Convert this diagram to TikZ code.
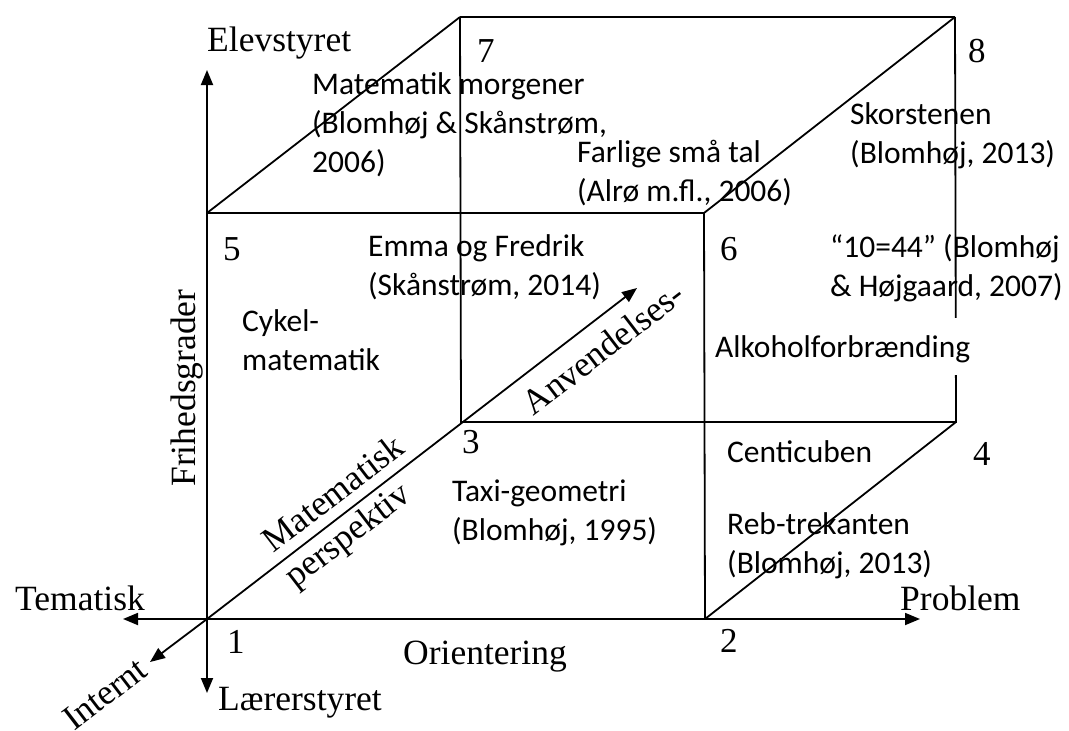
\documentclass[tikz,border=0pt]{standalone}
\usepackage{fontspec}
\setmainfont{Liberation Serif}
\newfontfamily\calfont{Carlito}
\usetikzlibrary{arrows.meta,calc}
\begin{document}
\begin{tikzpicture}[x=1pt,y=-1pt,
  edge/.style={line width=1.8pt},
  axis/.style={line width=1.8pt,-{Triangle[length=15pt,width=12pt]}},
  lab/.style={font=\fontsize{35.5}{40}\selectfont, inner sep=0pt},
  num/.style={font=\fontsize{35}{40}\selectfont, inner sep=0pt, anchor=base west},
  ex/.style={font=\calfont\fontsize{31.5}{39}\selectfont, inner sep=0pt, align=left, anchor=north west, execute at begin node=\strut},
  gapbox/.style={font=\calfont\fontsize{31.5}{39}\selectfont, fill=white, inner xsep=2pt, inner ysep=14pt, text height=25pt, text depth=4pt, anchor=base west},
]
\useasboundingbox (0,0) rectangle (1069,731);
% cube corners
\coordinate (O)  at (207,619);
\coordinate (C2) at (705,619);
\coordinate (C3) at (461,422);
\coordinate (C4) at (956,422);
\coordinate (C5) at (207,213);
\coordinate (C6) at (704,213);
\coordinate (C7) at (460,17);
\coordinate (C8) at (955,17);
% axis tips
\coordinate (tU) at (207,70);
\coordinate (tD) at (207,693);
\coordinate (tL) at (123,619);
\coordinate (tR) at (920,619);
\coordinate (tI) at (150,662);
\coordinate (tA) at (637,288);
% cube edges
\draw[edge] (C5) -- (C6);
\draw[edge] (C7) -- (C8);
\draw[edge] (C7) -- (C3) -- (C4) -- (C8);
\draw[edge] (C5) -- (C7);
\draw[edge] (C6) -- (C8);
\draw[edge] (C2) -- (C4);
\draw[edge] (C6) -- (C2);
% axes
\draw[axis] (O) -- (tU);
\draw[axis] (O) -- (tD);
\draw[axis] (O) -- (tL);
\draw[axis] (O) -- (tR);
\draw[axis] (O) -- (tI);
\draw[axis] (O) -- (tA);
% axis labels
\node[lab, anchor=base west] (elev) at (207,51) {Elevstyret};
\node[lab, anchor=base west] (laerer) at (218,710) {Lærerstyret};
\node[lab, anchor=base west] (tema) at (15,610) {Tematisk};
\node[lab, anchor=base west] (prob) at (900,610) {Problem};
\node[lab, anchor=base west] (orient) at (403,664) {Orientering};
\node[lab, rotate=90, anchor=base] (frih) at (195,388) {Frihedsgrader};
\node[lab, rotate=37.5] (intern) at (105,694) {Internt};
\node[lab, rotate=37.5] (matem) at (333,493) {Matematisk};
\node[lab, rotate=37.5] (persp) at (349,537) {perspektiv};
\node[lab, rotate=37.5] (anv) at (603,348) {Anvendelses-};
% corner numbers
\node[num] (n1) at (227,653) {1};
\node[num] (n2) at (720,652) {2};
\node[num] (n3) at (462,453) {3};
\node[num] (n4) at (973,465) {4};
\node[num] (n5) at (223,260) {5};
\node[num] (n6) at (720,260) {6};
\node[num] (n7) at (477,62) {7};
\node[num] (n8) at (968,62) {8};
% examples
\node[ex] (morg) at (312,72.7) {Matematik morgener\\(Blomhøj \& Skånstrøm,\\2006)};
\node[ex] (farl) at (577,139.7) {Farlige små tal\\(Alrø m.fl., 2006)};
\node[ex] (skor) at (850,102.7) {Skorstenen\\(Blomhøj, 2013)};
\node[ex] (emma) at (368,234.7) {Emma og Fredrik\\(Skånstrøm, 2014)};
\node[ex] (ti) at (830,234.7) {“10=44” (Blomhøj\\\& Højgaard, 2007)};
\node[ex] (cykel) at (242,309.7) {Cykel-\\matematik};
\node[ex] (taxi) at (452,479.7) {Taxi-geometri\\(Blomhøj, 1995)};
\node[ex] (centi) at (727,434.7) {Centicuben};
\node[ex] (reb) at (727,512.7) {Reb-trekanten\\(Blomhøj, 2013)};
\node[gapbox] (alko) at (713,357) {Alkoholforbrænding};
\end{tikzpicture}
\end{document}
